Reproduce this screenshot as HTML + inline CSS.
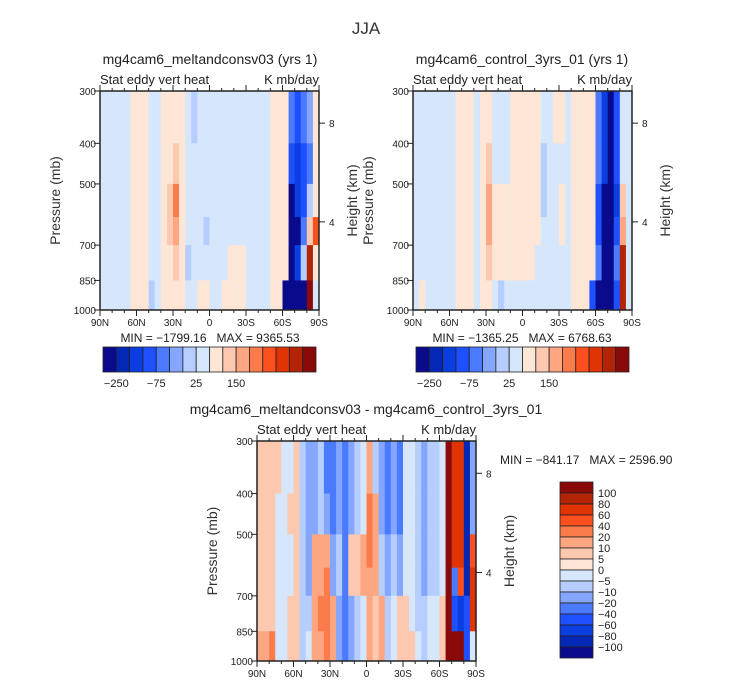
<!DOCTYPE html>
<html><head><meta charset="utf-8"><style>
body{margin:0;background:#fff;}
svg{display:block;font-family:"Liberation Sans",sans-serif;}
</style></head><body>
<svg id="fig" width="732" height="684" viewBox="0 0 732 684" xmlns="http://www.w3.org/2000/svg">
<text x="366" y="34" font-size="17" text-anchor="middle" fill="#333">JJA</text>
<text x="210" y="64" font-size="14" text-anchor="middle" fill="#222">mg4cam6_meltandconsv03 (yrs 1)</text>
<text x="522" y="64" font-size="14" text-anchor="middle" fill="#222">mg4cam6_control_3yrs_01 (yrs 1)</text>
<text x="366" y="414" font-size="14" text-anchor="middle" fill="#222">mg4cam6_meltandconsv03 - mg4cam6_control_3yrs_01</text>
<text x="210" y="342" font-size="12" text-anchor="middle" fill="#222">MIN = −1799.16&#160;&#160;&#160;MAX = 9365.53</text>
<text x="522" y="342" font-size="12" text-anchor="middle" fill="#222">MIN = −1365.25&#160;&#160;&#160;MAX = 6768.63</text>
<text x="500" y="464" font-size="12" fill="#222">MIN = −841.17&#160;&#160;&#160;MAX = 2596.90</text>
<g id="layer"></g>
</svg>
<script>
const colors=["#0a0a8c","#0527b5","#0a3ee0","#1e50ff","#4a7aff","#84a6ff","#b5cdff","#d7e7fb","#fde6d6","#fcc8b0","#fca782","#fb7b4a","#fb4f1e","#e03404","#b32405","#8a0a0a"];
const thrTop=[-250,-200,-150,-100,-75,-50,-25,0,25,50,75,100,150,200,250];
const thrDiff=[-100,-80,-60,-40,-20,-10,-5,0,5,10,20,40,60,80,100];
const pEdges=[300,400,500,600,700,850,1000];
const xTickLabels=["90N","60N","30N","0","30S","60S","90S"];
const pTicks=[300,400,500,700,850,1000];
const hTicks=[8,4];
const topBarLabels=["-250","-75","25","150"];
const diffBarLabels=["100","80","60","40","20","10","5","0","-5","-10","-20","-40","-60","-80","-100"];
// panel 1 rows (36 cols of 5deg, 90N->90S)
const p1r0=[-5,-5,-5,-5,-5,10,10,10,-5,-5,10,10,10,10,-5,-30,-5,-5,-5,-5,-5,-5,-5,-5,-5,-5,-5,-5,10,10,10,-100,-150,-100,-75,10];
const p1r1=[-5,-5,-5,-5,-5,10,10,10,-5,-5,10,10,30,10,-5,-5,-5,-5,-5,-5,-5,-5,-5,-5,-5,-5,-5,-5,10,10,10,-150,-200,-150,-100,10];
const p1r2=[-5,-5,-5,-5,-5,10,10,10,-5,-5,10,30,80,10,-5,-5,-5,-5,-5,-5,-5,-5,-5,-5,-5,-5,-5,-5,10,10,10,-260,-200,-150,-50,10];
const p1r3=[-5,-5,-5,-5,-5,10,10,10,-5,-5,10,30,60,10,-5,-5,-5,-30,-5,-5,-5,-5,-5,-5,-5,-5,-5,-5,10,10,10,-260,-260,-100,30,100];
const p1r4=[-5,-5,-5,-5,-5,10,10,10,-5,-5,10,10,30,10,-30,-5,-5,-5,-5,-5,-5,10,10,10,-5,-5,-5,-5,10,10,10,-260,-200,-50,200,10];
const p1r5=[-5,-5,-5,-5,-5,10,10,10,-30,-5,10,10,10,10,-5,-5,10,10,-5,-5,10,10,10,10,-5,-5,-5,-5,10,10,-260,-260,-260,-260,260,-5];
// panel 2
const p2r0=[-5,-5,-5,-5,-5,-5,-5,10,10,10,-5,10,10,-5,-5,-5,10,10,10,10,10,-5,-5,10,10,-5,10,10,10,10,-100,-200,-260,-150,-5,-5];
const p2r1=[-5,-5,-5,-5,-5,-5,-5,10,10,10,-5,10,30,-5,-5,-5,10,10,10,10,10,-30,-5,-5,-5,-5,10,10,10,10,-100,-200,-260,-150,-5,-5];
const p2r2=[-5,-5,-5,-5,-5,-5,-5,10,10,10,-5,10,60,10,10,10,10,10,10,10,10,-30,-5,-5,10,-5,10,10,10,10,-150,-260,-260,-200,30,-5];
const p2r3=[-5,-5,-5,-5,-5,-5,-5,10,10,10,-5,10,60,10,10,10,10,10,10,10,10,-5,-5,-5,10,-5,10,10,10,10,-150,-260,-260,-150,60,-5];
const p2r4=[-5,-5,-5,-5,-5,-5,-5,10,10,10,-5,10,30,10,10,10,10,10,10,10,-5,-5,-5,-5,-5,-5,10,10,10,10,-100,-260,-260,-100,200,-5];
const p2r5=[-5,10,-5,-5,-5,-5,-5,10,10,10,-5,10,10,-5,-30,-5,-5,-5,-5,-5,-5,-5,-5,-5,-5,-5,10,10,10,-150,-260,-260,-260,-150,200,-5];
// panel 3 difference
const p3r0=[5,5,5,5,-5,-5,5,-10,-20,-20,-10,-30,-40,-20,-40,-20,-10,-5,10,-10,-20,-30,-20,-30,-5,-5,-10,-20,-10,-10,-5,100,60,60,-100,-20];
const p3r1=[5,5,5,-5,-5,5,5,-10,-20,-20,-10,-20,-40,-20,-40,-20,-10,-5,20,10,-20,-30,-20,-30,-5,-5,-10,-20,-10,-10,-5,100,60,60,-100,-20];
const p3r2=[5,5,5,-5,-5,-5,5,-10,-20,10,10,10,-20,-10,-30,5,5,10,20,10,-10,-20,-10,-20,-5,-5,-10,-20,-10,-10,-5,100,60,60,-100,40];
const p3r3=[5,5,5,-5,-5,-5,5,-10,-20,10,10,20,-20,-10,-30,5,5,10,10,10,-10,-20,-10,-20,-5,-5,-10,-20,-10,-10,-5,100,-40,40,-100,60];
const p3r4=[5,5,5,-5,-5,5,5,-10,-10,10,30,30,10,-20,-30,-20,-10,-5,10,5,10,-10,-5,5,5,-5,-10,-10,-5,-5,5,100,-60,-80,-60,60];
const p3r5=[10,10,20,-5,-5,5,5,-10,-5,10,10,20,10,-20,-30,-20,-10,-5,10,5,10,-10,-5,5,5,5,-5,-10,-5,-5,5,100,100,100,-60,-5];

const NS="http://www.w3.org/2000/svg";
const layer=document.getElementById('layer');
function mk(tag,attrs,parent){const e=document.createElementNS(NS,tag);for(const k in attrs)e.setAttribute(k,attrs[k]);(parent||layer).appendChild(e);return e;}
function colorOf(v,thr){let i=0;while(i<thr.length&&v>=thr[i])i++;return colors[i];}
function drawPanel(id,x0,y0,w,h,rows,thr){
  const g=mk('g',{});
  
  
  const yOf=p=>y0+(Math.log(p)-Math.log(300))/(Math.log(1000)-Math.log(300))*h;
  const xOf=lat=>x0+(90-lat)/180*w;
  rows.forEach((row,r)=>{
    const ya=yOf(pEdges[r]),yb=yOf(pEdges[r+1]);
    row.forEach((v,c)=>{
      const xa=xOf(90-c*5),xb=xOf(90-(c+1)*5);
      const rc=mk('rect',{x:xa,y:ya,width:xb-xa+0.5,height:yb-ya+0.5,fill:colorOf(v,thr)},g);
      
      
    });
  });
  mk('rect',{x:x0,y:y0,width:w,height:h,fill:'none',stroke:'#222','stroke-width':1.5},g);
  for(let lat=90;lat>=-90;lat-=10){
    const x=xOf(lat),major=lat%30===0;
    mk('line',{x1:x,x2:x,y1:y0+h,y2:y0+h+(major?6:3),stroke:'#222'},g);
    mk('line',{x1:x,x2:x,y1:y0,y2:y0-(major?6:3),stroke:'#222'},g);
  }
  xTickLabels.forEach((t,i)=>{const tx=mk('text',{x:xOf(90-i*30),y:y0+h+16,'font-size':10,'text-anchor':'middle',fill:'#222'},g);tx.textContent=t;
    });
  pTicks.forEach(p=>{const y=yOf(p);mk('line',{x1:x0-6,x2:x0,y1:y,y2:y,stroke:'#222'},g);
    const tx=mk('text',{x:x0-4,y:y+4,'font-size':10,'text-anchor':'end',fill:'#222'},g);tx.textContent=p;
    });
  hTicks.forEach(hk=>{const p=1060*Math.exp(-hk/7.37);const y=yOf(p);mk('line',{x1:x0+w,x2:x0+w+6,y1:y,y2:y,stroke:'#222'},g);
    const tx=mk('text',{x:x0+w+10,y:y+4,'font-size':10,fill:'#222'},g);tx.textContent=hk;
    });
  let t=mk('text',{x:x0,y:y0-7,'font-size':13,fill:'#222'},g);t.textContent='Stat eddy vert heat';
  
  t=mk('text',{x:x0+w,y:y0-7,'font-size':13,'text-anchor':'end',fill:'#222'},g);t.textContent='K mb/day';
  
  t=mk('text',{x:0,y:0,'font-size':14,'text-anchor':'middle',fill:'#333',transform:`translate(${x0-40},${y0+h/2}) rotate(-90)`},g);t.textContent='Pressure (mb)';
  
  t=mk('text',{x:0,y:0,'font-size':14,'text-anchor':'middle',fill:'#333',transform:`translate(${x0+w+38},${y0+h/2}) rotate(-90)`},g);t.textContent='Height (km)';
  
}
drawPanel('panel1-contour',100,91,219,219,[p1r0,p1r1,p1r2,p1r3,p1r4,p1r5],thrTop);
drawPanel('panel2-contour',413,91,219,219,[p2r0,p2r1,p2r2,p2r3,p2r4,p2r5],thrTop);
drawPanel('panel3-contour',257,441,219,220,[p3r0,p3r1,p3r2,p3r3,p3r4,p3r5],thrDiff);
function hbar(id,x0,y0,w,h){
  const g=mk('g',{});
  
  
  const bw=w/16;
  colors.forEach((c,i)=>{const r=mk('rect',{x:x0+i*bw,y:y0,width:bw,height:h,fill:c,stroke:'#222','stroke-width':0.8},g);
    });
  topBarLabels.forEach((l,i)=>{const t=mk('text',{x:x0+(1+i*3)*bw,y:y0+h+15,'font-size':11,'text-anchor':'middle',fill:'#222'},g);t.textContent=l.replace('-','−');
    });
}
hbar('panel1-colorbar',103,347,213,25);
hbar('panel2-colorbar',416,347,213,25);
(function(){
  const g=mk('g',{});
  
  
  const x0=560,y0=482,w=33,bh=11;
  colors.slice().reverse().forEach((c,i)=>{const r=mk('rect',{x:x0,y:y0+i*bh,width:w,height:bh,fill:c,stroke:'#222','stroke-width':0.8},g);
    });
  diffBarLabels.forEach((l,i)=>{const t=mk('text',{x:x0+w+5,y:y0+(i+1)*bh+4,'font-size':11,fill:'#222'},g);t.textContent=l.replace('-','−');
    });
})();
</script>
</body></html>
